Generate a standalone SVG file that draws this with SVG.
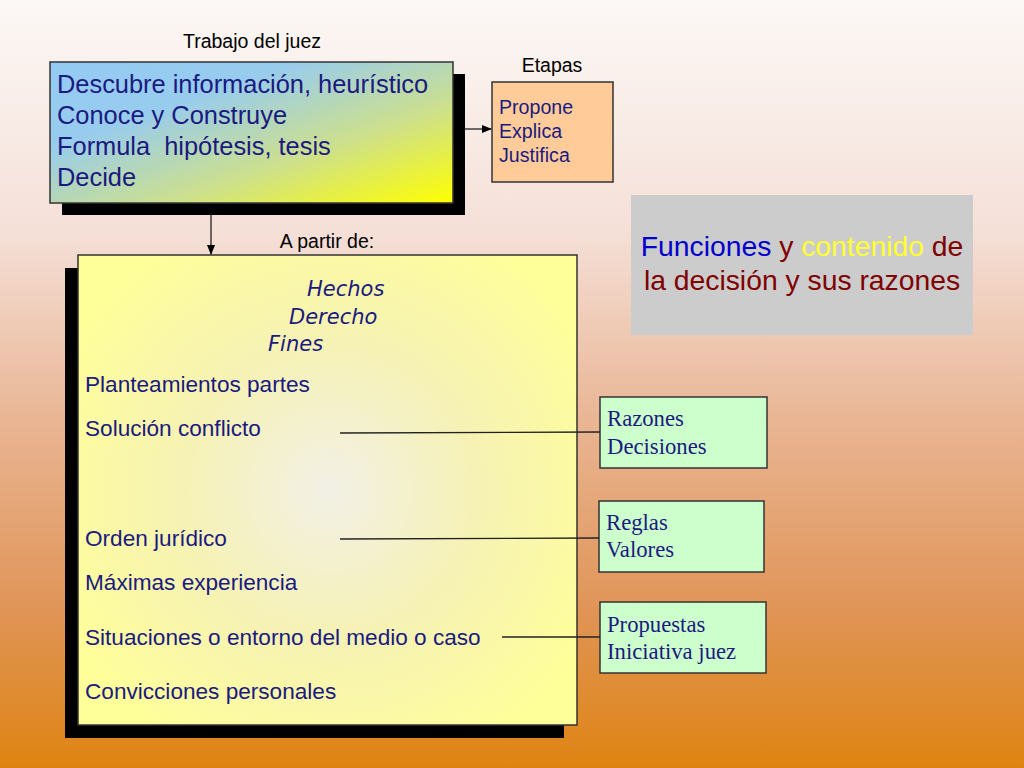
<svg xmlns="http://www.w3.org/2000/svg" width="1024" height="768" viewBox="0 0 1024 768">
<defs>
<linearGradient id="bg" x1="0" y1="0" x2="0" y2="1">
<stop offset="0" stop-color="#FCF8F6"/>
<stop offset="0.3" stop-color="#F5E0D8"/>
<stop offset="0.55" stop-color="#E9B593"/>
<stop offset="0.8" stop-color="#E09455"/>
<stop offset="1" stop-color="#DF8412"/>
</linearGradient>
<linearGradient id="blue" x1="0" y1="0" x2="1" y2="1">
<stop offset="0" stop-color="#94CBF4"/>
<stop offset="0.3" stop-color="#98CCEE"/>
<stop offset="0.65" stop-color="#CDE08C"/>
<stop offset="1" stop-color="#FFFF00"/>
</linearGradient>
<radialGradient id="yel" cx="330" cy="490" r="300" gradientUnits="userSpaceOnUse">
<stop offset="0" stop-color="#F2F0E6"/>
<stop offset="0.5" stop-color="#F6F2B4"/>
<stop offset="1" stop-color="#FFFF99"/>
</radialGradient>
<marker id="arr" markerWidth="10" markerHeight="10" refX="9" refY="5" orient="auto" markerUnits="userSpaceOnUse">
<path d="M0,1 L10,5 L0,9 Z" fill="#000"/>
</marker>
<style>
.lbl{font-family:"Liberation Sans",Arial,sans-serif;font-size:19.5px;fill:#000}
.t1{font-family:"Liberation Sans",Arial,sans-serif;font-size:25.4px;fill:#1A1A80;white-space:pre}
.t2{font-family:"Liberation Sans",Arial,sans-serif;font-size:19.6px;fill:#1A1A80}
.t3{font-family:"Liberation Sans",Arial,sans-serif;font-size:22.6px;fill:#1A1A80}
.it{font-family:"DejaVu Sans",Verdana,sans-serif;font-style:italic;font-size:21px;fill:#1A1A80}
.ser{font-family:"Liberation Serif","Times New Roman",serif;font-size:22.7px;fill:#1A1A80}
.big{font-family:"Liberation Sans",Arial,sans-serif;font-size:28.3px;fill:#800000}
.box{stroke:#333;stroke-width:1.5}
.green{fill:#CCFFCC;stroke:#333;stroke-width:1.5}
.con{stroke:#222;stroke-width:1.3;fill:none}
</style>
</defs>
<rect x="0" y="0" width="1024" height="768" fill="url(#bg)"/>

<text class="lbl" x="252" y="48" text-anchor="middle">Trabajo del juez</text>
<text class="lbl" x="552" y="72" text-anchor="middle">Etapas</text>
<text class="lbl" x="327" y="248" text-anchor="middle">A partir de:</text>

<g id="trabajo">
<rect x="62" y="74" width="403" height="141" fill="#000"/>
<rect x="50" y="62" width="403" height="141" fill="url(#blue)" class="box"/>
<text class="t1" x="57" y="93">Descubre información, heurístico</text>
<text class="t1" x="57" y="124">Conoce y Construye</text>
<text class="t1" x="57" y="155" xml:space="preserve">Formula  hipótesis, tesis</text>
<text class="t1" x="57" y="186">Decide</text>
</g>

<g id="etapas">
<rect x="492" y="82" width="121" height="100" fill="#FFCC99" class="box"/>
<text class="t2" x="499" y="114">Propone</text>
<text class="t2" x="499" y="138">Explica</text>
<text class="t2" x="499" y="162">Justifica</text>
</g>

<g id="titulo">
<rect x="631" y="195" width="342" height="140" fill="#CCCCCC"/>
<text class="big" x="802" y="256" text-anchor="middle"><tspan fill="#0000CC">Funciones</tspan> y <tspan fill="#FFFF33">contenido</tspan> de</text>
<text class="big" x="802" y="290" text-anchor="middle">la decisión y sus razones</text>
</g>

<g id="apartir">
<rect x="65" y="268" width="499" height="470" fill="#000"/>
<rect x="78" y="255" width="499" height="470" fill="url(#yel)" class="box"/>
<text class="it" x="307" y="296">Hechos</text>
<text class="it" x="289" y="324">Derecho</text>
<text class="it" x="268" y="351">Fines</text>
<text class="t3" x="85" y="392">Planteamientos partes</text>
<text class="t3" x="85" y="436">Solución conflicto</text>
<text class="t3" x="85" y="546">Orden jurídico</text>
<text class="t3" x="85" y="590">Máximas experiencia</text>
<text class="t3" x="85" y="645">Situaciones o entorno del medio o caso</text>
<text class="t3" x="85" y="699">Convicciones personales</text>
</g>

<g id="razones">
<rect x="600" y="397" width="167" height="71" class="green"/>
<text class="ser" x="607" y="426">Razones</text>
<text class="ser" x="607" y="454">Decisiones</text>
</g>
<g id="reglas">
<rect x="599" y="501" width="165" height="71" class="green"/>
<text class="ser" x="606" y="530">Reglas</text>
<text class="ser" x="606" y="557">Valores</text>
</g>
<g id="propuestas">
<rect x="600" y="602" width="166" height="71" class="green"/>
<text class="ser" x="607" y="632">Propuestas</text>
<text class="ser" x="607" y="659">Iniciativa juez</text>
</g>

<g id="connectors">
<line class="con" x1="465" y1="129" x2="491" y2="129" marker-end="url(#arr)"/>
<line class="con" x1="211" y1="215" x2="211" y2="254" marker-end="url(#arr)"/>
<line class="con" x1="340" y1="433" x2="600" y2="432"/>
<line class="con" x1="340" y1="539" x2="599" y2="538"/>
<line class="con" x1="502" y1="637" x2="600" y2="637"/>
</g>
</svg>
